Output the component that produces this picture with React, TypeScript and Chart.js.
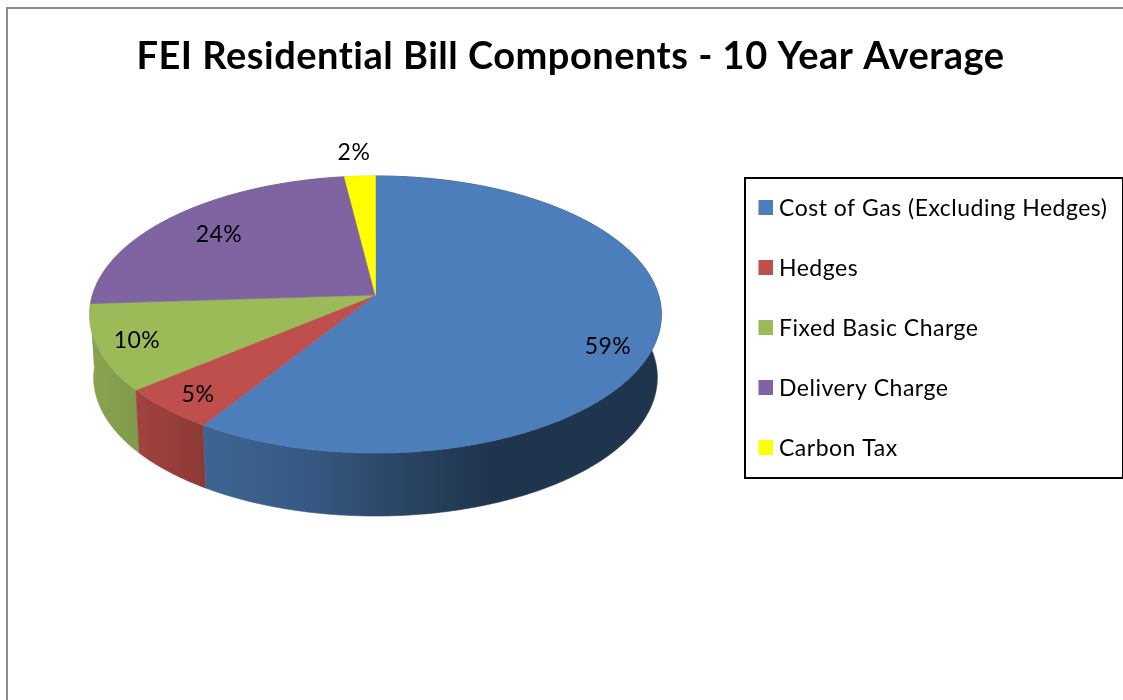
import React, { useEffect, useRef } from "react";
import { Chart, registerables } from "chart.js";

Chart.register(...registerables);

const chartTitle = "FEI Residential Bill Components - 10 Year Average";
const categories = ["Cost of Gas (Excluding Hedges)", "Hedges", "Fixed Basic Charge", "Delivery Charge", "Carbon Tax"];
const shares = [59, 5, 10, 24, 2];
const topColors = ["#4c7ebb", "#be4f4c", "#9bbb59", "#8064a2", "#ffff00"];

// Horizontal shading of each slice's outer wall: [canvas x, colour] stops.
const wallShades: [number, string][][] = [
  [[203, "#3e6592"], [300, "#375a85"], [403, "#2a4564"], [490, "#1f344d"], [662, "#1f344d"]],
  [[137, "#a2423f"], [205, "#8c3a37"]],
  [[90, "#88a44f"], [141, "#7f9a4a"]],
  [[90, "#8064a2"], [376, "#5f4a7c"]],
  [[340, "#cccc00"], [376, "#cccc00"]],
];

// Viewing projection of the pie's top face.
const apexX = 375.5;
const apexY = 295;
const spreadX = 283;
const spreadY = 135.8;
const tilt = 0.1408;
const wallDepth = 63;
const floorShrink = 0.986;

// Centres of the percentage labels.
const labelSpots: [number, number][] = [[608, 347], [198, 395], [137, 341], [219, 235], [354, 153]];

const textFont = "Lato";
const textTracking = "0.5px";

function project(angle: number, r = 1): [number, number] {
  const X = Math.cos(angle) * r;
  const Y = Math.sin(angle) * r;
  const w = 1 - tilt * Y;
  return [apexX + (spreadX * X) / w, apexY + (spreadY * Y) / w];
}

function rimPoints(start: number, end: number): [number, number][] {
  const steps = Math.max(2, Math.ceil((end - start) / 0.008));
  const pts: [number, number][] = [];
  for (let i = 0; i <= steps; i++) pts.push(project(start + ((end - start) * i) / steps));
  return pts;
}

const pie3d = {
  id: "pie3d",
  beforeDraw(chart: any) {
    const { ctx, width, height } = chart;
    ctx.letterSpacing = textTracking;
    ctx.save();
    ctx.strokeStyle = "#8c8c8c";
    ctx.lineWidth = 2;
    ctx.beginPath();
    ctx.moveTo(7, height);
    ctx.lineTo(7, 8);
    ctx.lineTo(width, 8);
    ctx.stroke();
    ctx.restore();
  },
  // The library supplies each slice's angles; the slices are painted here in tilted view.
  beforeDatasetDraw(chart: any, args: any) {
    const { ctx } = chart;
    const arcs = args.meta.data;
    ctx.save();
    for (let i = arcs.length - 1; i >= 0; i--) {
      const { startAngle, endAngle } = arcs[i];
      const rim = rimPoints(startAngle, endAngle);
      const stops = wallShades[i];
      const x0 = stops[0][0];
      const x1 = stops[stops.length - 1][0];
      const grad = ctx.createLinearGradient(x0, 0, x1, 0);
      stops.forEach(([x, c]) => grad.addColorStop((x - x0) / (x1 - x0), c));
      ctx.fillStyle = grad;
      ctx.strokeStyle = grad;
      ctx.lineWidth = 0.6;
      ctx.beginPath();
      rim.forEach(([x, y], k) => (k ? ctx.lineTo(x, y) : ctx.moveTo(x, y)));
      for (let k = rim.length - 1; k >= 0; k--) {
        ctx.lineTo(apexX + (rim[k][0] - apexX) * floorShrink, rim[k][1] + wallDepth);
      }
      ctx.closePath();
      ctx.fill();
      ctx.stroke();
    }
    for (let i = 0; i < arcs.length; i++) {
      const { startAngle, endAngle } = arcs[i];
      ctx.fillStyle = topColors[i];
      ctx.strokeStyle = topColors[i];
      ctx.lineWidth = 0.6;
      ctx.beginPath();
      ctx.moveTo(apexX, apexY);
      rimPoints(startAngle, endAngle).forEach(([x, y]) => ctx.lineTo(x, y));
      ctx.closePath();
      ctx.fill();
      ctx.stroke();
    }
    ctx.restore();
    return false;
  },
  afterDraw(chart: any) {
    const { ctx } = chart;
    const labels: string[] = chart.data.labels;
    const values: number[] = chart.data.datasets[0].data;
    ctx.save();
    ctx.font = `23px ${textFont}`;
    ctx.fillStyle = "#000000";
    ctx.textBaseline = "middle";
    ctx.textAlign = "center";
    values.forEach((v, i) => ctx.fillText(`${v}%`, labelSpots[i][0], labelSpots[i][1]));

    // Legend panel
    ctx.strokeStyle = "#000000";
    ctx.lineWidth = 2;
    ctx.strokeRect(745, 178, 378, 300);
    ctx.textAlign = "left";
    labels.forEach((name, i) => {
      const y = 208 + i * 60;
      ctx.fillStyle = topColors[i];
      ctx.fillRect(758.5, y - 8, 14.5, 15);
      ctx.fillStyle = "#000000";
      ctx.fillText(name, 779, y + 1);
    });
    ctx.restore();
  },
};

export default function App() {
  const ref = useRef<HTMLCanvasElement>(null);
  useEffect(() => {
    document.body.style.margin = "0";
    const chart = new Chart(ref.current!, {
      type: "pie",
      data: {
        labels: categories,
        datasets: [{ data: shares, backgroundColor: topColors, borderWidth: 0 }],
      },
      options: {
        responsive: false,
        animation: false,
        layout: { padding: { left: 18 } },
        plugins: {
          legend: { display: false },
          tooltip: { enabled: false },
          title: {
            display: true,
            text: chartTitle,
            color: "#000000",
            font: { family: textFont, size: 38, weight: "bold" },
            padding: { top: 34, bottom: 10 },
          },
        },
      },
      plugins: [pie3d],
    } as any);
    return () => chart.destroy();
  }, []);
  return <canvas ref={ref} width={1123} height={700} style={{ display: "block" }} />;
}
